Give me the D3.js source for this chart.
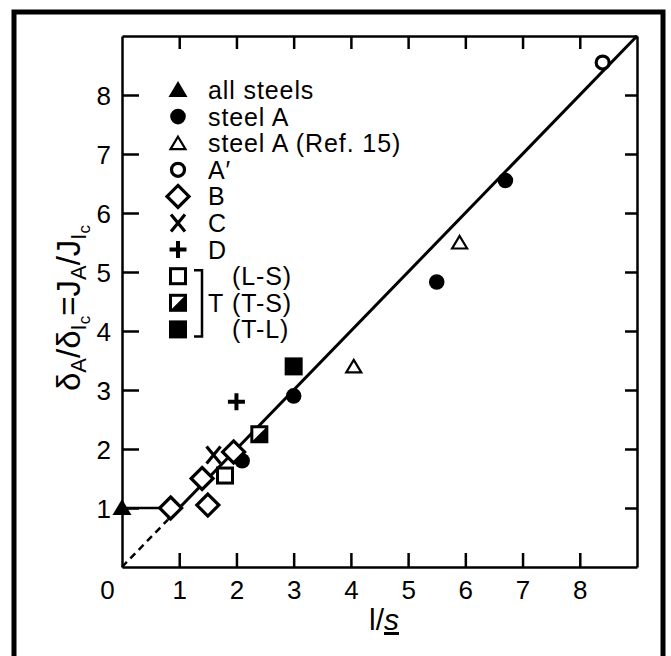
<!DOCTYPE html>
<html><head><meta charset="utf-8">
<script src="https://cdn.jsdelivr.net/npm/d3@7"></script>
<style>body{margin:0;background:#fff}svg{display:block}text{font-family:"Liberation Sans",Arial,Helvetica,sans-serif;fill:#000}</style>
</head><body>
<script>
// ---- data ----
const xTicks = [0,1,2,3,4,5,6,7,8];
const yTicks = [1,2,3,4,5,6,7,8];
const allSteels = [[0,1.0]];
const steelA = [[2.1,1.8],[3.0,2.9],[5.5,4.83],[6.7,6.55]];
const steelARef15 = [[4.05,3.4],[5.9,5.5]];
const steelAprime = [[8.4,8.55]];
const steelB = [[0.85,1.0],[1.4,1.5],[1.5,1.05],[1.95,1.95]];
const steelC = [[1.6,1.9]];
const steelD = [[2.0,2.8]];
const steelT_LS = [[1.8,1.55]];
const steelT_TS = [[2.4,2.25]];
const steelT_TL = [[3.0,3.4]];
const fitLine = [[0.8,0.8],[9,9]];
const fitDash = [[0,0],[0.8,0.8]];
const flatLine = [[0,1.0],[0.85,1.0]];
const legendLabels = ["all steels","steel A","steel A (Ref. 15)","A\u2032","B","C","D","(L-S)","(T-S)","(T-L)"];

const W=671,H=656;
const svg=d3.select("body").append("svg").attr("width",W).attr("height",H);
const x=d3.scaleLinear().domain([0,9]).range([122,637]);
const y=d3.scaleLinear().domain([0,9]).range([567,36]);

// outer frame
svg.append("path").attr("d","M14,660 L14,12 L663,12 L663,660").attr("fill","none").attr("stroke","#000").attr("stroke-width",5);

const F=26;
function styleAxis(g){g.selectAll("path.domain").attr("stroke","#000").attr("stroke-width",2.5);
  g.selectAll(".tick line").attr("stroke","#000").attr("stroke-width",2.5);}

// bottom axis
const gb=svg.append("g").attr("transform",`translate(0,${y(0)})`)
  .call(d3.axisBottom(x).tickValues(xTicks).tickSize(-14).tickSizeOuter(0).tickPadding(20).tickFormat(d3.format("d")));
styleAxis(gb);
gb.selectAll(".tick").filter(d=>d===0).select("line").remove();
gb.selectAll(".tick text").attr("font-size",F).attr("fill","#000").attr("font-family",null).attr("dy","0.72em").attr("y",13)
  .attr("dx",d=>d===0?-15:0);
// top axis
const gt=svg.append("g").attr("transform",`translate(0,${y(9)})`)
  .call(d3.axisTop(x).tickValues(yTicks).tickSize(-13).tickSizeOuter(0).tickFormat(""));
styleAxis(gt);
// left axis
const gl=svg.append("g").attr("transform",`translate(${x(0)},0)`)
  .call(d3.axisLeft(y).tickValues(yTicks).tickSize(-17).tickSizeOuter(0).tickPadding(10).tickFormat(d3.format("d")));
styleAxis(gl);
gl.selectAll(".tick text").attr("font-size",F).attr("fill","#000").attr("font-family",null).attr("x",-11).attr("dy","0.36em");
// right axis
const gr=svg.append("g").attr("transform",`translate(${x(9)},0)`)
  .call(d3.axisRight(y).tickValues(yTicks).tickSize(-12).tickSizeOuter(0).tickFormat(""));
styleAxis(gr);

// lines
const line=d3.line().x(d=>x(d[0])).y(d=>y(d[1]));
svg.append("path").attr("d",line(fitLine)).attr("fill","none").attr("stroke","#000").attr("stroke-width",3);
svg.append("path").attr("d",line(fitDash)).attr("fill","none").attr("stroke","#000").attr("stroke-width",2.5).attr("stroke-dasharray","7,5");
svg.append("path").attr("d",line(flatLine)).attr("fill","none").attr("stroke","#000").attr("stroke-width",2.5);

// marker drawers
const M={
  ftri:(g,cx,cy)=>g.append("path").attr("d",`M${cx},${cy-9}L${cx+9.5},${cy+7}L${cx-9.5},${cy+7}Z`).attr("fill","#000"),
  fcirc:(g,cx,cy)=>g.append("circle").attr("cx",cx).attr("cy",cy).attr("r",7.8).attr("fill","#000"),
  otri:(g,cx,cy)=>g.append("path").attr("d",`M${cx},${cy-6.5}L${cx+7.5},${cy+6}L${cx-7.5},${cy+6}Z`).attr("fill","#fff").attr("stroke","#000").attr("stroke-width",2.2),
  ocirc:(g,cx,cy)=>g.append("circle").attr("cx",cx).attr("cy",cy).attr("r",6.5).attr("fill","#fff").attr("stroke","#000").attr("stroke-width",3.2),
  diam:(g,cx,cy)=>g.append("path").attr("d",`M${cx},${cy-11}L${cx+11},${cy}L${cx},${cy+11}L${cx-11},${cy}Z`).attr("fill","#fff").attr("stroke","#000").attr("stroke-width",3.2),
  cross:(g,cx,cy)=>g.append("path").attr("d",`M${cx-7},${cy-8.5}L${cx+7},${cy+8.5}M${cx+7},${cy-8.5}L${cx-7},${cy+8.5}`).attr("stroke","#000").attr("stroke-width",3.2).attr("fill","none"),
  plus:(g,cx,cy)=>g.append("path").attr("d",`M${cx-8.5},${cy}L${cx+8.5},${cy}M${cx},${cy-8.5}L${cx},${cy+8.5}`).attr("stroke","#000").attr("stroke-width",4).attr("fill","none"),
  osq:(g,cx,cy)=>g.append("rect").attr("x",cx-7.5).attr("y",cy-7.5).attr("width",15).attr("height",15).attr("fill","#fff").attr("stroke","#000").attr("stroke-width",3),
  hsq:(g,cx,cy)=>{g.append("rect").attr("x",cx-7.5).attr("y",cy-7.5).attr("width",15).attr("height",15).attr("fill","#fff").attr("stroke","#000").attr("stroke-width",3);
    g.append("path").attr("d",`M${cx-7.5},${cy+7.5}L${cx+7.5},${cy-7.5}L${cx+7.5},${cy+7.5}Z`).attr("fill","#000");},
  fsq:(g,cx,cy)=>g.append("rect").attr("x",cx-9).attr("y",cy-9).attr("width",18).attr("height",18).attr("fill","#000")
};
const series=[[allSteels,"ftri"],[steelA,"fcirc"],[steelARef15,"otri"],[steelAprime,"ocirc"],[steelB,"diam"],[steelC,"cross"],[steelD,"plus"],[steelT_LS,"osq"],[steelT_TS,"hsq"],[steelT_TL,"fsq"]];
const gp=svg.append("g");
series.forEach(([data,m])=>data.forEach(d=>M[m](gp,x(d[0]),y(d[1]))));

// legend
const rowsY=d3.range(10).map(i=>90+i*26.6);
const lg=svg.append("g");
series.forEach(([_,m],i)=>M[m](lg,178,rowsY[i]));
legendLabels.forEach((t,i)=>{
  lg.append("text").attr("x",i>=7?232:208).attr("y",rowsY[i]+9).attr("font-size",25).attr("letter-spacing",0.9).text(t);
});
lg.append("text").attr("x",208).attr("y",rowsY[8]+9).attr("font-size",25).text("T");
lg.append("path").attr("d",`M194,${rowsY[7]-6}L202,${rowsY[7]-6}L202,${rowsY[9]+7}L194,${rowsY[9]+7}`).attr("fill","none").attr("stroke","#000").attr("stroke-width",2.5);

// x title
const xt=svg.append("text").attr("x",384).attr("y",630).attr("text-anchor","middle").attr("font-size",30);
xt.append("tspan").text("l/");
xt.append("tspan").attr("font-style","italic").attr("text-decoration","underline").text("s");

// y title
const yt=svg.append("text").attr("transform","translate(80,308) rotate(-90)").attr("text-anchor","middle").attr("font-size",33);
yt.append("tspan").text("δ");
yt.append("tspan").attr("font-size",22).attr("dy",6).text("A");
yt.append("tspan").attr("dy",-6).text("/δ");
yt.append("tspan").attr("font-size",22).attr("dy",6).text("I");
yt.append("tspan").attr("font-size",17).attr("dy",4).text("c");
yt.append("tspan").attr("dy",-10).text("=J");
yt.append("tspan").attr("font-size",22).attr("dy",6).text("A");
yt.append("tspan").attr("dy",-6).text("/J");
yt.append("tspan").attr("font-size",22).attr("dy",6).text("I");
yt.append("tspan").attr("font-size",17).attr("dy",4).text("c");
</script>
</body></html>
